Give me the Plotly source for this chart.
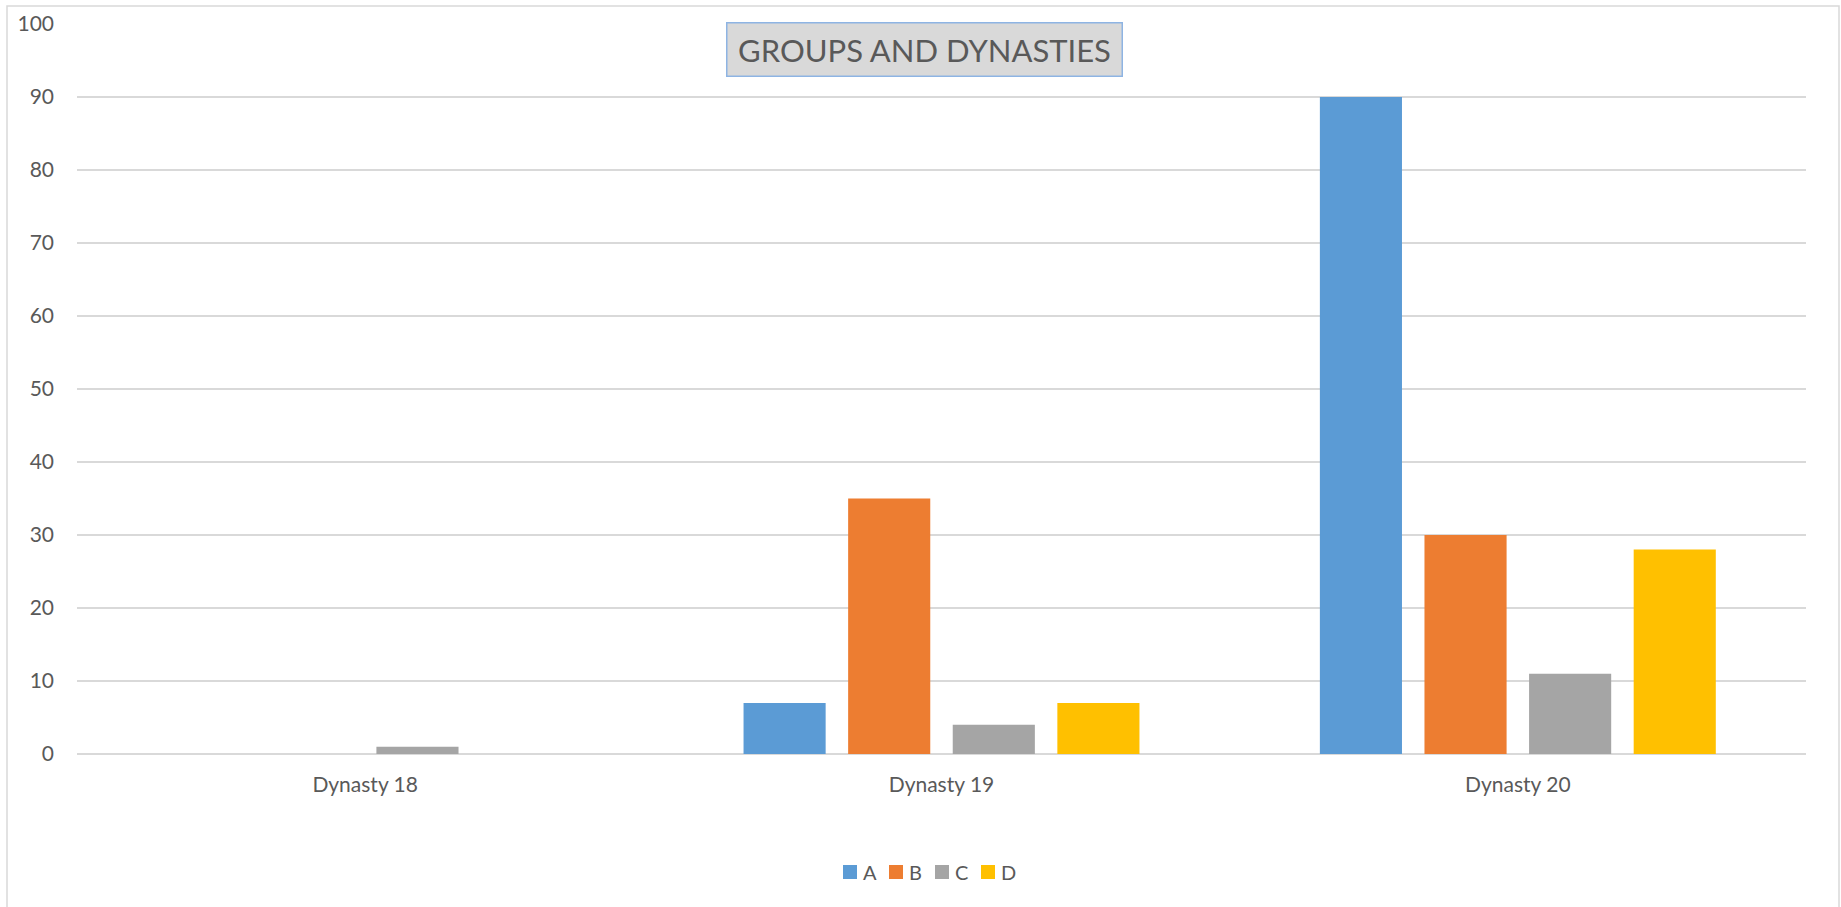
import plotly.graph_objects as go

categories = ["Dynasty 18", "Dynasty 19", "Dynasty 20"]
series_names = ["A", "B", "C", "D"]
values_A = [0, 7, 90]
values_B = [0, 35, 30]
values_C = [1, 4, 11]
values_D = [0, 7, 28]
y_ticks = [0, 10, 20, 30, 40, 50, 60, 70, 80, 90, 100]
title_text = "GROUPS AND DYNASTIES"

colors = ["#5B9BD5", "#ED7D31", "#A5A5A5", "#FFC000"]
series_values = [values_A, values_B, values_C, values_D]

W, H = 1841, 907
L, R, T, B = 77, 35, 24, 153
pw, ph = W - L - R, H - T - B

def px_x(x):
    return (x - L) / pw

def px_y(y):
    return (H - B - y) / ph

font = "Lato, 'Open Sans', sans-serif"
txt = "#595959"

fig = go.Figure()
for name, vals, col in zip(series_names, series_values, colors):
    fig.add_trace(go.Bar(name=name, x=categories, y=vals, showlegend=False,
                         marker=dict(color=col, line=dict(width=0))))

fig.update_layout(
    width=W, height=H,
    margin=dict(l=L, r=R, t=T, b=B, autoexpand=False),
    paper_bgcolor="white", plot_bgcolor="white",
    barmode="group", bargap=0.274, bargroupgap=0.215,
    font=dict(family=font, color=txt, size=20),
    showlegend=False,
    xaxis=dict(showgrid=False, showline=False, zeroline=False, ticks="",
               ticklabelstandoff=16, tickfont=dict(size=21, color=txt), fixedrange=True),
    yaxis=dict(range=[0, 100], tickvals=y_ticks, showgrid=True, gridcolor="#D9D9D9", gridwidth=1.5,
               zeroline=True, zerolinecolor="#D9D9D9", zerolinewidth=1.5, showline=False,
               ticks="", ticklabelstandoff=22, tickfont=dict(size=21, color=txt), fixedrange=True),
)

# outer chart border
fig.add_shape(type="rect", xref="paper", yref="paper",
              x0=px_x(7), x1=px_x(1839), y0=px_y(912), y1=px_y(6),
              line=dict(color="#D9D9D9", width=1.5), fillcolor="rgba(0,0,0,0)", layer="below")

# title box
fig.add_annotation(xref="paper", yref="paper", x=px_x(924), y=px_y(49),
                   xanchor="center", yanchor="middle", text=title_text, showarrow=False,
                   width=392, height=50, align="center", valign="middle",
                   font=dict(size=31, color=txt, family=font),
                   bgcolor="#D9D9D9", bordercolor="#8EB4E3", borderwidth=1.5, borderpad=1)

# legend (Excel-style compact row)
leg_x0, leg_step, leg_y, sq = 843, 46, 872, 14
for i, (name, col) in enumerate(zip(series_names, colors)):
    sx = leg_x0 + i * leg_step
    fig.add_shape(type="rect", xref="paper", yref="paper",
                  x0=px_x(sx), x1=px_x(sx + sq), y0=px_y(leg_y + sq / 2), y1=px_y(leg_y - sq / 2),
                  line=dict(width=0), fillcolor=col)
    fig.add_annotation(xref="paper", yref="paper", x=px_x(sx + sq + 4), y=px_y(leg_y),
                       xanchor="left", yanchor="middle", text=name, showarrow=False,
                       font=dict(size=20, color=txt, family=font))

fig.write_html("out.html", config={"displayModeBar": False},
               post_script="document.body.style.margin='0px';document.body.style.padding='0px';")
